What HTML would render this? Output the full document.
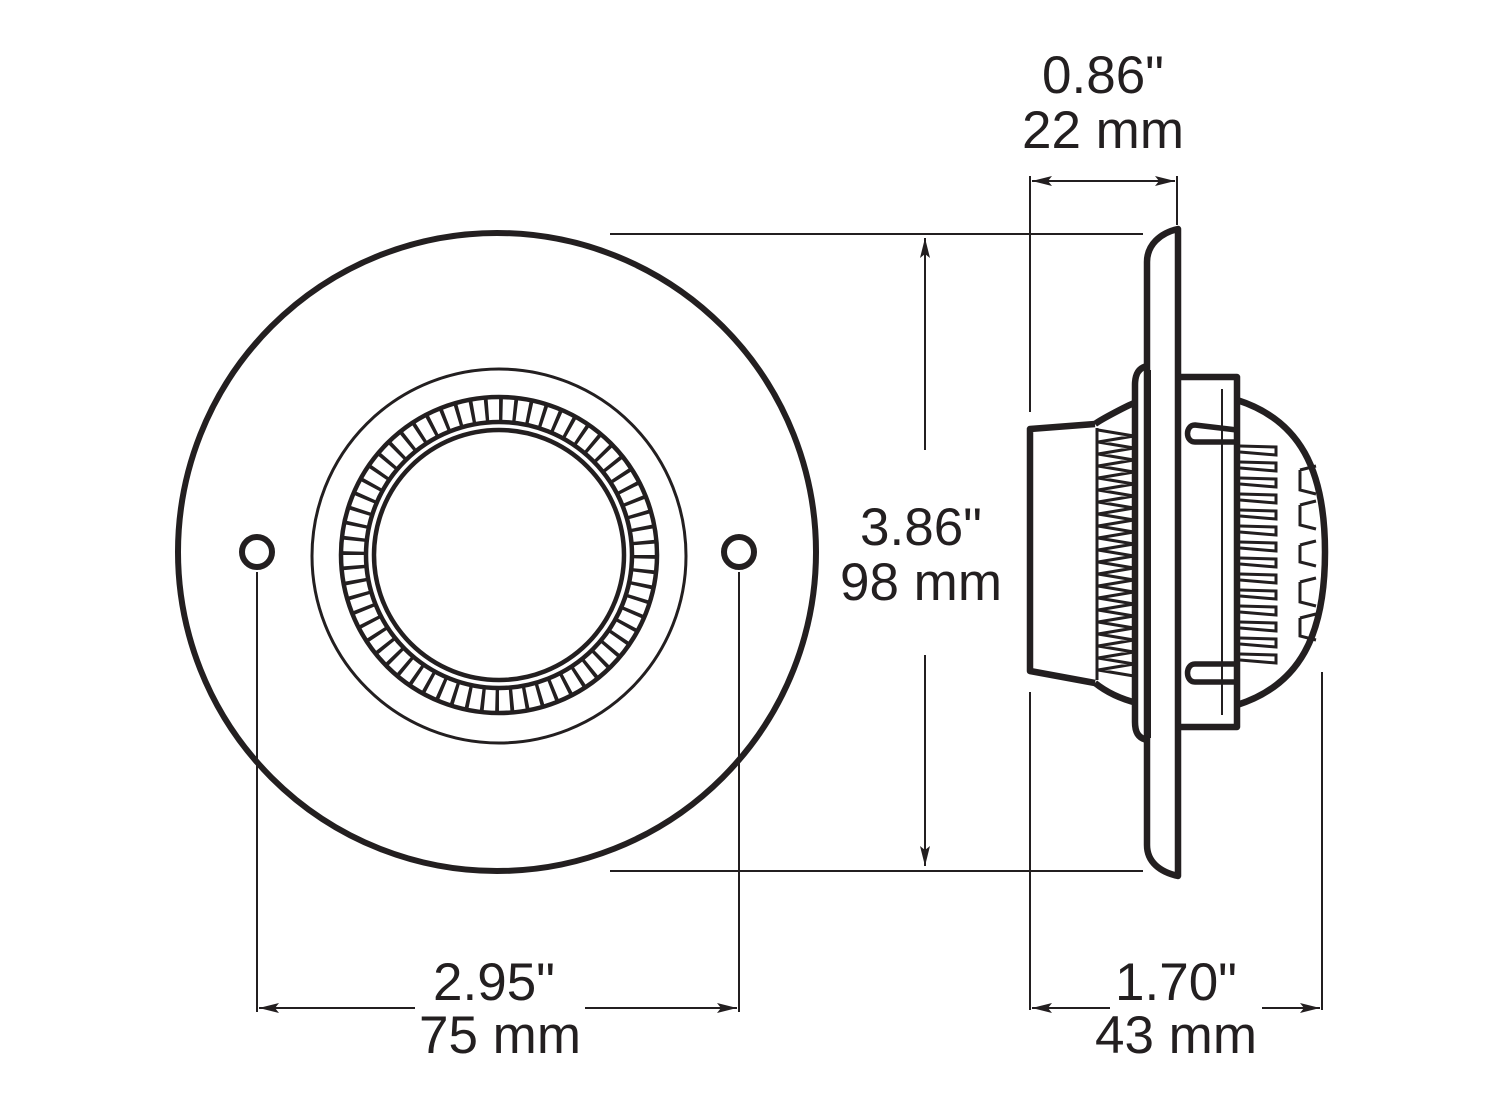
<!DOCTYPE html>
<html><head><meta charset="utf-8">
<style>
html,body{margin:0;padding:0;background:#fff;}
svg{display:block;}
text{font-family:"Liberation Sans",Arial,sans-serif;font-size:53px;fill:#231f20;text-anchor:middle;}
</style></head>
<body>
<svg id="s" width="1500" height="1111" viewBox="0 0 1500 1111" xmlns="http://www.w3.org/2000/svg">
<defs>
<marker id="a" viewBox="0 0 20 10" refX="20" refY="5" markerWidth="20" markerHeight="10" markerUnits="userSpaceOnUse" orient="auto">
<path d="M0,0 L20,5 L0,10 L4,5 Z" fill="#231f20"/>
</marker>
</defs>
<g fill="none" stroke="#231f20">
<circle cx="497" cy="552" r="319" stroke-width="6"/>
<circle cx="499" cy="556" r="187" stroke-width="3"/>
<circle cx="499" cy="555" r="158" stroke-width="4.5"/>
<circle cx="499" cy="555" r="133" stroke-width="4.5"/>
<circle cx="499" cy="555" r="145.5" stroke-width="25" stroke-dasharray="3.6 10.68"/>
<circle cx="499" cy="555" r="125" stroke-width="4.5"/>
<circle cx="257" cy="552" r="15" stroke-width="6"/>
<circle cx="739" cy="552" r="15" stroke-width="6"/>

<g stroke-width="2">
<line x1="257" y1="572" x2="257" y2="1012"/>
<line x1="739" y1="572" x2="739" y2="1012"/>
<line x1="415" y1="1008" x2="259" y2="1008" marker-end="url(#a)"/>
<line x1="585" y1="1008" x2="737" y2="1008" marker-end="url(#a)"/>
<line x1="610" y1="234" x2="1143" y2="234"/>
<line x1="610" y1="871" x2="1143" y2="871"/>
<line x1="925" y1="450" x2="925" y2="238" marker-end="url(#a)"/>
<line x1="925" y1="655" x2="925" y2="866" marker-end="url(#a)"/>
<line x1="1030" y1="176" x2="1030" y2="412"/>
<line x1="1177" y1="176" x2="1177" y2="225"/>
<line x1="1103" y1="181" x2="1032" y2="181" marker-end="url(#a)"/>
<line x1="1103" y1="181" x2="1175" y2="181" marker-end="url(#a)"/>
<line x1="1030" y1="692" x2="1030" y2="1010"/>
<line x1="1322" y1="672" x2="1322" y2="1010"/>
<line x1="1110" y1="1008" x2="1032" y2="1008" marker-end="url(#a)"/>
<line x1="1262" y1="1008" x2="1320" y2="1008" marker-end="url(#a)"/>
</g>

<g stroke-width="6.5" stroke-linejoin="round">
<path d="M1178,229 L1178,876 C1160,872 1147,862 1147,845 L1147,262 C1147,245 1160,233 1178,229 Z"/>
<path d="M1147,366 C1138,368 1135,375 1135,385 L1135,722 C1135,732 1138,738 1147,740"/>
<path d="M1178,377 L1237,377 L1237,727 L1178,727"/>
<path d="M1095,424 L1030,429 L1030,671 L1095,683"/>
<path d="M1095,424 C1100,420 1130,404 1137,402 M1095,683 C1110,695 1125,700 1137,703"/>
<path d="M1237,400 C1300,420 1325,470 1325,552 C1325,635 1300,685 1237,705"/>
<path d="M1237,430 L1195,425 C1185,425 1185,442 1195,442 L1237,442" stroke-width="5.5"/>
<path d="M1237,664 L1195,664 C1185,664 1185,682 1195,682 L1237,682" stroke-width="5.5"/>
</g>
<line x1="1150" y1="370" x2="1150" y2="738" stroke-width="2"/>
<line x1="1222" y1="389" x2="1222" y2="715" stroke-width="2"/>
<g id="fins" stroke-width="3"></g>
</g>
<text x="1103" y="93">0.86"</text>
<text x="1103" y="148">22 mm</text>
<text x="921" y="545">3.86"</text>
<text x="921" y="600">98 mm</text>
<text x="494" y="1000">2.95"</text>
<text x="500" y="1053">75 mm</text>
<text x="1176" y="1000">1.70"</text>
<text x="1176" y="1053">43 mm</text>
</svg>
<script>
var g=document.getElementById('fins'),ns='http://www.w3.org/2000/svg',d='';
var y=430,t=0;
while(y<680){d+=(t?'L1098,':'M1098,')+y+' L1134,'+(y+6)+' ';y+=12;t=1;}
d+='M1097,428 L1097,680 M1135,408 L1135,698 ';
for(var yy=446;yy<660;yy+=16){d+='M1240,'+yy+' L1276,'+(yy+1)+' L1276,'+(yy+9)+' L1240,'+(yy+6)+' ';}
var sl=[[470,490],[505,525],[545,562],[582,602],[618,636]];
sl.forEach(function(s){d+='M1300,'+s[0]+' L1316,'+(s[0]-4)+' M1300,'+s[0]+' L1300,'+s[1]+' L1316,'+(s[1]+4)+' ';});
var p=document.createElementNS(ns,'path');p.setAttribute('d',d);g.appendChild(p);
</script>
</body></html>
